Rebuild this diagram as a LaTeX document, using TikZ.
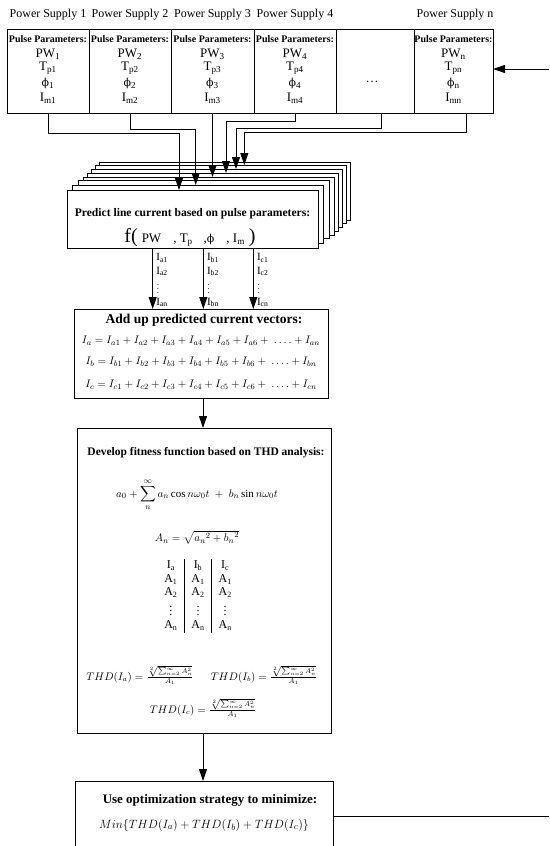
\documentclass[tikz,border=0pt]{standalone}
\usepackage{fontspec}
\setmainfont{Liberation Serif}
\newfontfamily\dvsphi{DejaVu Serif}
\usepackage{amsmath}
\usetikzlibrary{arrows.meta}
\newcommand{\myphi}{{\dvsphi\fontsize{11}{13}\selectfont ϕ}}
\begin{document}
\begin{tikzpicture}[x=1pt,y=-1pt,
  box/.style={draw, line width=0.9pt, fill=white, inner sep=0pt, outer sep=0pt, anchor=north west},
  conn/.style={line width=0.9pt, -{Triangle[length=12pt,width=8pt]}},
  plain/.style={line width=0.9pt},
  hdr/.style={font=\fontsize{12}{14}\selectfont, inner sep=0pt},
  pp/.style={font=\fontsize{10}{12}\selectfont\bfseries, inner sep=0pt},
  par/.style={font=\fontsize{13}{15}\selectfont, inner sep=0pt},
  lbl/.style={font=\fontsize{11}{13}\selectfont, inner sep=0pt, anchor=west},
  eq/.style={inner sep=0pt}]
\useasboundingbox (0,0) rectangle (549,846);

% ---- top row of power supplies
\node[box, minimum width=82pt, minimum height=84pt] (p1) at (7,29) {};
\node[box, minimum width=82pt, minimum height=84pt] (p2) at (89,29) {};
\node[box, minimum width=83pt, minimum height=84pt] (p3) at (171,29) {};
\node[box, minimum width=82pt, minimum height=84pt] (p4) at (254,29) {};
\node[box, minimum width=78pt, minimum height=84pt] (p5) at (336,29) {};
\node[box, minimum width=79pt, minimum height=84pt] (p6) at (414,29) {};

\foreach \i/\x in {1/48,2/130,3/212.5,4/295}{
  \node[hdr] (h\i) at (\x,15) {Power Supply \i};
  \node[pp] (pp\i) at (\x,39) {Pulse Parameters:};
  \node[par] (pw\i) at (\x,54) {PW\textsubscript{\i}};
  \node[par] (tp\i) at (\x,68.5) {T\textsubscript{p\i}};
  \node[par] (ph\i) at (\x,83.5) {\myphi\textsubscript{\i}};
  \node[par] (im\i) at (\x,98) {I\textsubscript{m\i}};
}
\node[par] (dots) at (372,82) {…};
\node[hdr] (hn) at (455,15) {Power Supply n};
\node[pp] (ppn) at (453.5,39) {Pulse Parameters:};
\node[par] (pwn) at (453.5,54) {PW\textsubscript{n}};
\node[par] (tpn) at (453.5,68.5) {T\textsubscript{pn}};
\node[par] (phn) at (453.5,83.5) {\myphi\textsubscript{n}};
\node[par] (imn) at (453.5,98) {I\textsubscript{mn}};

\coordinate (fbin) at (549,69);
\draw[conn] (fbin) -- (fbin -| p6.east);

% ---- stack of prediction boxes
\foreach \k/\dx/\dy in {7/32/28, 6/28/25, 5/24/21, 4/20/17, 3/16/13, 2/11/10, 1/5/5}
  \node[box, minimum width=251pt, minimum height=58pt] (L\k) at (67+\dx,190-\dy) {};
\node[box, minimum width=251pt, minimum height=58pt] (L0) at (67,190) {};
\node[inner sep=0pt, font=\fontsize{11.6}{13}\selectfont\bfseries] (ptxt) at (192.5,214) {Predict line current based on pulse parameters:};
\node[inner sep=0pt] (ftxt) at (190,238) {{\fontsize{20}{20}\selectfont f(}\hspace{4pt}{\fontsize{13}{15}\selectfont PW\hspace{12pt}, T\textsubscript{p}\hspace{11pt},\myphi\hspace{12pt}, I\textsubscript{m}}\hspace{4pt}{\fontsize{20}{20}\selectfont )}};

% ---- connectors from supplies to stack
\draw[conn] (p1.south) |- (179,133) -- (179,0 |- L0.north);
\draw[conn] (p2.south) |- (195.7,129) -- (195.7,0 |- L1.north);
\draw[conn] (p3.south) -- (p3.south |- L3.north);
\draw[conn] (p4.south) |- (226,121.5) -- (226,0 |- L4.north);
\draw[conn] ([xshift=6pt]p5.south) |- (236,128) -- (236,0 |- L5.north);
\draw[conn] ([xshift=12.5pt]p6.south) |- (244.3,132) -- (244.3,0 |- L6.north);

% ---- add-up box
\node[box, minimum width=254pt, minimum height=89pt] (add) at (74,309) {};
\node[inner sep=0pt, font=\fontsize{13.5}{15}\selectfont\bfseries] (addt) at (204,320) {Add up predicted current vectors:};
\node[eq, font=\fontsize{11.2}{14}\selectfont] (eqa) at (201,341) {$I_a = I_{a1} + I_{a2} + I_{a3} + I_{a4} + I_{a5} + I_{a6} + \ \ldots. + I_{an}$};
\node[eq, font=\fontsize{11.2}{14}\selectfont] (eqb) at (201,362) {$I_b = I_{b1} + I_{b2} + I_{b3} + I_{b4} + I_{b5} + I_{b6} + \ \ldots. + I_{bn}$};
\node[eq, font=\fontsize{11.2}{14}\selectfont] (eqc) at (201,385) {$I_c = I_{c1} + I_{c2} + I_{c3} + I_{c4} + I_{c5} + I_{c6} + \ \ldots. + I_{cn}$};

% ---- predicted currents
\foreach \x/\c in {152.7/a,203.3/b,253.3/c}{
  \draw[conn] (\x,0 |- L0.south) -- (\x,0 |- add.north);
  \node[lbl] (l\c1) at (\x+3.5,258) {I\textsubscript{\c1}};
  \node[lbl] (l\c2) at (\x+3.5,271.5) {I\textsubscript{\c2}};
  \node[lbl] (l\c d) at (\x+4,286) {\fontsize{9}{9}\selectfont\vdots};
  \node[lbl] (l\c n) at (\x+3.5,302.5) {I\textsubscript{\c n}};
}

% ---- THD box
\node[box, minimum width=254pt, minimum height=305pt] (thd) at (77,428) {};
\draw[conn] (203,0 |- add.south) -- (203,0 |- thd.north);
\node[inner sep=0pt, font=\fontsize{11.5}{13}\selectfont\bfseries] (thdt) at (206,453) {Develop fitness function based on THD analysis:};
\node[eq, font=\fontsize{11}{13}\selectfont] (four) at (197,495) {$\displaystyle a_0 + \sum_{n}^{\infty} a_n \cos n\omega_0 t \; + \; b_n \sin n\omega_0 t$};
\node[eq, font=\fontsize{11}{13}\selectfont] (an) at (197,537) {$A_n = \sqrt{{a_n}^2 + {b_n}^2}$};
\node[eq, font=\fontsize{12}{13.5}\selectfont] (tab) at (198,596) {\setlength{\tabcolsep}{7pt}\renewcommand{\arraystretch}{1}\begin{tabular}{c|c|c}
I\textsubscript{a} & I\textsubscript{b} & I\textsubscript{c}\\
A\textsubscript{1} & A\textsubscript{1} & A\textsubscript{1}\\
A\textsubscript{2} & A\textsubscript{2} & A\textsubscript{2}\\
\vdots & \vdots & \vdots\\
A\textsubscript{n} & A\textsubscript{n} & A\textsubscript{n}
\end{tabular}};
\node[eq, font=\fontsize{10.5}{12}\selectfont] (thda) at (140,675) {$THD(I_a) = \frac{\sqrt[2]{\sum_{n=2}^{\infty} A_n^2}}{A_1}$};
\node[eq, font=\fontsize{10.5}{12}\selectfont] (thdb) at (264,675) {$THD(I_b) = \frac{\sqrt[2]{\sum_{n=2}^{\infty} A_n^2}}{A_1}$};
\node[eq, font=\fontsize{10.5}{12}\selectfont] (thdc) at (203,708) {$THD(I_c) = \frac{\sqrt[2]{\sum_{n=2}^{\infty} A_n^2}}{A_1}$};

% ---- optimisation box
\node[box, minimum width=258pt, minimum height=75pt] (opt) at (75,781) {};
\draw[conn] (203,0 |- thd.south) -- (203,0 |- opt.north);
\node[inner sep=0pt, font=\fontsize{13}{15}\selectfont\bfseries] (optt) at (210,800) {Use optimization strategy to minimize:};
\node[eq, font=\fontsize{12.8}{15}\selectfont] (minf) at (204,825) {$Min\{THD(I_a) + THD(I_b) + THD(I_c)\}$};
\coordinate (fbout) at (549,816);
\draw[plain] (opt.east |- fbout) -- (fbout);
\end{tikzpicture}
\end{document}
